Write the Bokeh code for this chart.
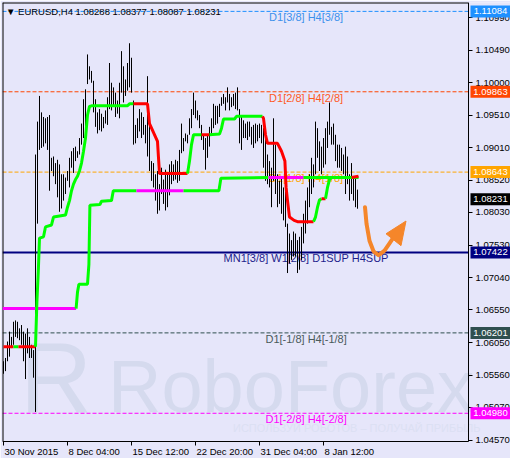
from bokeh.plotting import figure
from bokeh.models import FixedTicker, Range1d, NumeralTickFormatter
from bokeh.core.properties import value
from bokeh.embed import file_html
from bokeh.resources import INLINE

# ---------------- data ----------------
header = "\u25BC EURUSD,H4 1.08288 1.08377 1.08087 1.08231"

bar_high = [
    1.0577, 1.0582, 1.0607, 1.0622, 1.0614, 1.0637, 1.0639, 1.0637, 1.0627, 1.0632, 1.0622, 1.0619, 1.0627, 1.0614, 1.0602, 1.0594,
    1.0891, 1.0941, 1.0980, 1.0955, 1.0948, 1.0946, 1.0948, 1.0951, 1.0886, 1.0888, 1.0878, 1.0883, 1.0876, 1.0861, 1.0861, 1.0856,
    1.0866, 1.0886, 1.0896, 1.0901, 1.0903, 1.0896, 1.0916, 1.0938, 1.0975, 1.0990, 1.1043, 1.1025,
    1.1018, 1.1003, 1.0975, 1.0955, 1.0960, 1.0953, 1.0948, 1.0958, 1.0978, 1.1030, 1.1000, 1.0993, 1.0985, 1.0973, 1.1000, 1.1048,
    1.1025, 1.1005, 1.1030, 1.1060, 1.1038, 1.0973, 1.0936, 1.0946, 1.0960, 1.0955, 1.0948, 1.0936, 1.1010, 1.0941, 1.0881, 1.0878,
    1.0861, 1.0866, 1.0846, 1.0871, 1.0853, 1.0868, 1.0861, 1.0876, 1.0881, 1.0876, 1.0883, 1.0881,
    1.0898, 1.0938, 1.0916, 1.0923, 1.0921, 1.0946, 1.0960, 1.0985, 1.0973, 1.0958, 1.0951, 1.0936, 1.0921, 1.0916, 1.0921, 1.0933,
    1.0946, 1.0968, 1.0965, 1.0965, 1.0968, 1.0978, 1.0983, 1.0978, 1.0993, 1.0983, 1.0978, 1.0983, 1.0985, 1.0993, 1.0960, 1.0948,
    1.0943, 1.0938, 1.0941, 1.0941, 1.0933, 1.0936, 1.0938, 1.0936, 1.0938, 1.0936, 1.0931, 1.0921,
    1.0891, 1.0881, 1.0871, 1.0946, 1.0906, 1.0861, 1.0851, 1.0856, 1.0841, 1.0876, 1.0786, 1.0771, 1.0761, 1.0774, 1.0771, 1.0761,
    1.0766, 1.0781, 1.0801, 1.0821, 1.0841, 1.0861, 1.0886, 1.0876, 1.0941, 1.0931, 1.0911, 1.0903, 1.0916, 1.0931, 1.0941, 1.0970,
    1.0933, 1.0938, 1.0921, 1.0906, 1.0906, 1.0901, 1.0891, 1.0903, 1.0888, 1.0861, 1.0878, 1.0858, 1.0856, 1.08377,
]
bar_low = [
    1.0558, 1.0562, 1.0577, 1.0584, 1.0597, 1.0602, 1.0614, 1.0612, 1.0609, 1.0602, 1.0577, 1.0550, 1.0589, 1.0582, 1.0582, 1.0552,
    1.0500, 1.0786, 1.0898, 1.0901, 1.0903, 1.0908, 1.0898, 1.0836, 1.0866, 1.0858, 1.0846, 1.0826, 1.0804, 1.0809, 1.0821, 1.0831,
    1.0851, 1.0841, 1.0871, 1.0863, 1.0881, 1.0886, 1.0891, 1.0906, 1.0916, 1.0921, 1.0998, 1.1005,
    1.1000, 1.0955, 1.0933, 1.0923, 1.0928, 1.0926, 1.0931, 1.0938, 1.0936, 1.0960, 1.0958, 1.0965, 1.0948, 1.0953, 1.0946, 1.0985,
    1.0970, 1.0980, 1.0988, 1.0993, 1.0985, 1.0906, 1.0908, 1.0916, 1.0926, 1.0916, 1.0921, 1.0908, 1.0888, 1.0866, 1.0851, 1.0841,
    1.0821, 1.0801, 1.0806, 1.0831, 1.0816, 1.0806, 1.0811, 1.0829, 1.0846, 1.0851, 1.0853, 1.0848,
    1.0851, 1.0893, 1.0896, 1.0911, 1.0908, 1.0921, 1.0931, 1.0951, 1.0946, 1.0943, 1.0931, 1.0913, 1.0898, 1.0868, 1.0886, 1.0903,
    1.0923, 1.0931, 1.0936, 1.0938, 1.0948, 1.0965, 1.0968, 1.0958, 1.0970, 1.0958, 1.0963, 1.0965, 1.0960, 1.0958, 1.0908, 1.0898,
    1.0916, 1.0916, 1.0913, 1.0918, 1.0906, 1.0901, 1.0908, 1.0911, 1.0916, 1.0908, 1.0871, 1.0851,
    1.0846, 1.0841, 1.0811, 1.0851, 1.0831, 1.0811, 1.0816, 1.0801, 1.0791, 1.0781, 1.0711, 1.0726, 1.0731, 1.0736, 1.0736, 1.0711,
    1.0716, 1.0731, 1.0756, 1.0771, 1.0786, 1.0811, 1.0831, 1.0841, 1.0861, 1.0886, 1.0866, 1.0861, 1.0871, 1.0876, 1.0901, 1.0921,
    1.0906, 1.0906, 1.0881, 1.0871, 1.0871, 1.0866, 1.0861, 1.0831, 1.0846, 1.0821, 1.0831, 1.0821, 1.0811, 1.08087,
]
assert len(bar_high) == len(bar_low)

# upper trailing line: bar index, price, colour of the segment that starts there
upper_bar = [0, 5, 7.5, 16, 16.7, 17.4, 18, 20, 21, 24, 25, 31, 32, 33, 34, 35, 36, 37, 38, 39, 40, 41, 42, 43, 44,
             62, 63, 65, 72, 73, 77, 77.5, 78, 92, 93, 94, 95, 99, 103, 108, 109, 110, 115.5, 116.5, 129.5,
             130, 131, 132, 137, 139, 140.7, 141.3, 142, 143, 145.3, 147, 155, 156, 157, 158, 159, 161, 162,
             163, 164, 174, 177.5]
upper_price = [1.0599, 1.0599, 1.0599, 1.0599, 1.0667, 1.0714, 1.0764, 1.0766, 1.0781, 1.0784, 1.0796, 1.0799, 1.0811,
               1.0821, 1.0836, 1.0846, 1.0853, 1.0858, 1.0866, 1.0878, 1.0896, 1.0916, 1.0951, 1.0964, 1.0965,
               1.0965, 1.0968, 1.0968, 1.0968, 1.0938, 1.0911, 1.0886, 1.0862, 1.0862, 1.0881, 1.0906, 1.0921, 1.0921,
               1.0921, 1.0922, 1.0931, 1.0945, 1.0945, 1.0949, 1.0949,
               1.0946, 1.0921, 1.0908, 1.0908, 1.0896, 1.0881, 1.0841, 1.0821, 1.0796, 1.0791, 1.0789, 1.0789, 1.0796,
               1.0811, 1.0822, 1.0824, 1.0824, 1.0841, 1.0853, 1.0856, 1.0856, 1.0858]
upper_col = ["r", "g", "r", "g", "g", "g", "g", "g", "g", "g", "g", "g", "g", "g", "g", "g", "g", "g", "g", "g", "g", "g", "g", "g", "g",
             "g", "g", "r", "r", "r", "r", "r", "r", "g", "g", "g", "g", "r", "g", "g", "g", "g", "g", "g", "r",
             "r", "r", "r", "r", "r", "r", "r", "r", "r", "r", "r", "g", "g", "g", "g", "r", "g", "g",
             "g", "g", "r", "r"]

lower_bar = [-0.5, 36.3, 37, 37.7, 42, 42.7, 43.2, 48.2, 49, 54, 54.9, 66.5, 90, 107.7, 108.7, 132.5, 150, 177.5]
lower_price = [1.0657, 1.0657, 1.0682, 1.0694, 1.0694, 1.0724, 1.0814, 1.0815, 1.0820, 1.0821, 1.0836, 1.0836,
               1.0836, 1.0836, 1.0855, 1.0856, 1.0856, 1.0856]
lower_col = ["m", "g", "g", "g", "g", "g", "g", "g", "g", "g", "g", "m", "g", "g", "g", "m", "g", "g"]

level_price = [1.11084, 1.09863, 1.08643, 1.07422, 1.06201, 1.04980]
level_name = ["D1[3/8] H4[3/8]", "D1[2/8] H4[2/8]", "D1[1/8] H4[1/8]",
              "MN1[3/8] W1[2/8] D1SUP H4SUP", "D1[-1/8] H4[-1/8]", "D1[-2/8] H4[-2/8]"]
level_color = ["#1E90FF", "#FF4500", "#FFA500", "#000080", "#2F4F4F", "#FF00FF"]
level_text_color = ["#3C91EC", "#FF5A1E", "#FFA500", "#1E1E8C", "#4A5A5A", "#FF00FF"]
level_dash = ["4 2", "4 2", "4 2", "solid", "4 2", "4 2"]
level_width = [1, 1, 1, 2, 1, 1]
last_price = 1.08231

ytick_values = [1.10990, 1.10490, 1.10000, 1.09510, 1.09010, 1.08520, 1.08030,
                1.07530, 1.07040, 1.06550, 1.06050, 1.05560, 1.05070, 1.04570]
xtick_bars = [0, 32, 64, 96, 128, 160]
xtick_labels = ["30 Nov 2015", "8 Dec 04:00", "15 Dec 12:00", "22 Dec 20:00", "31 Dec 04:00", "8 Jan 12:00"]

# forecast arrow path (bar index / price)
arrow_x = [180.75, 181.5, 183.0, 185.0, 187.5, 190.5, 193.0, 195.0]
arrow_y = [1.08110, 1.07860, 1.07600, 1.07440, 1.07380, 1.07450, 1.07560, 1.07650]
arrow_head_x = [201.25, 191.25, 198.75]
arrow_head_y = [1.07900, 1.07706, 1.07526]

BG = "#E6E6FA"
FONT = "Liberation Sans"
COLS = {"g": "#00FF00", "r": "#FF0000", "m": "#FF00FF"}
X0, XR, X1 = -0.5, 232.5, 253.5             # chart left, chart right (price scale line), canvas right
YB, YT, Y0 = 1.04551, 1.11219, 1.04293      # chart bottom, top, canvas bottom
XBOX = 243.5                                # centre of the price-scale boxes

p = figure(width=510, height=458, x_range=Range1d(X0, X1), y_range=Range1d(Y0, YT),
           y_axis_location="right", toolbar_location=None, output_backend="svg",
           min_border_left=2, min_border_right=0, min_border_top=2, min_border_bottom=0,
           background_fill_color=BG, border_fill_color=BG, outline_line_color=None)
p.grid.visible = False

ya = p.yaxis[0]
ya.fixed_location = XR
ya.bounds = (YB, YT)
ya.ticker = FixedTicker(ticks=ytick_values)
ya.formatter = NumeralTickFormatter(format="0.00000")
ya.minor_tick_line_alpha = 0
ya.major_tick_in = 0
ya.major_tick_out = 4
ya.major_tick_line_color = "black"
ya.axis_line_color = "black"
ya.major_label_standoff = 3
ya.major_label_text_font = FONT
ya.major_label_text_font_size = "9.5px"
ya.major_label_text_color = "black"

xa = p.xaxis[0]
xa.fixed_location = YB
xa.bounds = (X0, XR)
xa.ticker = FixedTicker(ticks=xtick_bars)
xa.major_label_overrides = {v: "" for v in xtick_bars}
xa.major_label_text_font_size = "9px"
xa.major_label_standoff = 1
xa.minor_tick_line_alpha = 0
xa.major_tick_in = 0
xa.major_tick_out = 4
xa.major_tick_line_color = "black"
xa.axis_line_color = "black"

# chart border (left and top; right and bottom are the axis lines)
p.segment(x0=[X0, X0], y0=[YB, YT], x1=[X0, XR], y1=[YT, YT], line_color="black", line_width=2)

# watermark (behind everything)
WM = "#D5DAEE"
p.text(x=[8.25], y=[1.05523], text=["R"], text_font=value(FONT), text_font_size="100px",
       text_color=WM, text_baseline="middle", level="image")
p.text(x=[52.25], y=[1.05387], text=["RoboForex"], text_font=value(FONT), text_font_size="74px",
       text_color=WM, text_baseline="middle", level="image")
p.text(x=[114.75], y=[1.04749], text=["ИСПОЛЬЗУЙ РОБОТОВ – ПОЛУЧАЙ ПРИБЫЛЬ"], text_font=value(FONT),
       text_font_size="11px", text_color="#DCE0F3", text_baseline="middle", level="image")

# level lines and their names
for lp, ln, lc, tc, ld, lw in zip(level_price, level_name, level_color, level_text_color, level_dash, level_width):
    p.segment(x0=[X0], y0=[lp], x1=[XR], y1=[lp], line_color=lc, line_dash=value(ld), line_width=lw,
              level="underlay")
    p.text(x=[151.3], y=[lp], text=[ln], text_font=value(FONT), text_font_size="11px",
           text_color=tc, text_align="center", text_baseline="top", level="underlay")

p.text(x=[1.25], y=[level_price[0]], text=[header], text_font=value(FONT), text_font_size="9.5px",
       text_color="black", text_align="left", text_baseline="middle")

# price bars
xs = list(range(len(bar_high)))
p.segment(x0=xs, y0=bar_low, x1=xs, y1=bar_high, line_color="black", line_width=1)

# indicator lines
def draw_coloured(bars, prices, cols, width):
    run_x, run_y, run_c = [bars[0]], [prices[0]], cols[0]
    for i in range(1, len(bars)):
        run_x.append(bars[i]); run_y.append(prices[i])
        if i == len(bars) - 1 or cols[i] != run_c:
            p.line(run_x, run_y, line_color=COLS[run_c], line_width=width)
            run_x, run_y, run_c = [bars[i]], [prices[i]], cols[i]

draw_coloured(lower_bar, lower_price, lower_col, 3)
draw_coloured(upper_bar, upper_price, upper_col, 3)

# arrow
ARROW = "#F5862A"
p.line(arrow_x, arrow_y, line_color=ARROW, line_width=4, line_cap="round", line_join="round")
p.patch(arrow_head_x, arrow_head_y, fill_color=ARROW, line_color=ARROW, line_width=1)

# price boxes on the price scale
box_prices = level_price[:3] + [last_price] + level_price[3:]
box_colors = level_color[:3] + ["black"] + level_color[3:]
box_texts = [f"{bp:.5f}" for bp in box_prices]
p.rect(x=[XBOX] * len(box_prices), y=box_prices, width=40, height=12, width_units="screen",
       height_units="screen", fill_color=box_colors, line_color=None, level="overlay")
p.text(x=[XBOX] * len(box_prices), y=box_prices, text=box_texts, text_font=value(FONT),
       text_font_size="9.5px", text_color="white", text_align="center", text_baseline="middle",
       level="overlay")

# time labels under the chart
p.text(x=xtick_bars, y=[YB] * len(xtick_bars), text=xtick_labels, text_font=value(FONT),
       text_font_size="9.5px", text_color="black", text_align="left", text_baseline="top",
       x_offset=1, y_offset=4)

open("out.html", "w").write(file_html(p, INLINE))
